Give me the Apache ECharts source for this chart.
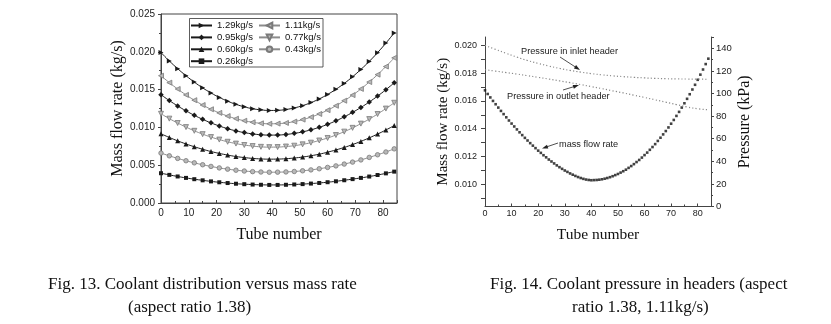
<!DOCTYPE html>
<html><head><meta charset="utf-8">
<script src="https://cdn.jsdelivr.net/npm/echarts@6/dist/echarts.min.js"></script>
<style>html,body{margin:0;padding:0;background:#fff}#c{width:831px;height:324px}</style>
</head><body><div id="c"></div>
<script>
// ---- Fig. 13 data (tube number every 3 tubes) ----
const tubes13 = [0,3,6,9,12,15,18,21,24,27,30,33,36,39,42,45,48,51,54,57,60,63,66,69,72,75,78,81,84];
const flow129 = [0.01990,0.01879,0.01777,0.01684,0.01599,0.01523,0.01456,0.01397,0.01347,0.01305,0.01272,0.01247,0.01232,0.01224,0.01226,0.01237,0.01258,0.01288,0.01328,0.01377,0.01436,0.01504,0.01582,0.01670,0.01767,0.01873,0.01989,0.02115,0.02250];
const flow111 = [0.01684,0.01592,0.01508,0.01430,0.01360,0.01296,0.01240,0.01192,0.01150,0.01115,0.01088,0.01068,0.01054,0.01048,0.01050,0.01059,0.01077,0.01103,0.01136,0.01178,0.01228,0.01286,0.01353,0.01427,0.01509,0.01600,0.01698,0.01805,0.01920];
const flow095 = [0.01432,0.01355,0.01284,0.01219,0.01160,0.01107,0.01060,0.01019,0.00983,0.00954,0.00931,0.00914,0.00903,0.00898,0.00899,0.00907,0.00921,0.00941,0.00968,0.01001,0.01041,0.01087,0.01140,0.01199,0.01264,0.01336,0.01414,0.01499,0.01590];
const flow077 = [0.01180,0.01116,0.01058,0.01004,0.00955,0.00911,0.00872,0.00839,0.00810,0.00786,0.00767,0.00753,0.00743,0.00739,0.00740,0.00747,0.00758,0.00776,0.00798,0.00827,0.00860,0.00899,0.00944,0.00994,0.01050,0.01110,0.01177,0.01249,0.01326];
const flow060 = [0.00915,0.00867,0.00822,0.00781,0.00744,0.00711,0.00681,0.00656,0.00634,0.00615,0.00601,0.00590,0.00583,0.00580,0.00581,0.00586,0.00595,0.00608,0.00625,0.00646,0.00672,0.00702,0.00735,0.00773,0.00815,0.00862,0.00912,0.00966,0.01025];
const flow043 = [0.00660,0.00624,0.00590,0.00559,0.00531,0.00506,0.00484,0.00464,0.00448,0.00434,0.00423,0.00415,0.00410,0.00407,0.00408,0.00411,0.00417,0.00426,0.00438,0.00453,0.00471,0.00491,0.00515,0.00541,0.00570,0.00603,0.00638,0.00675,0.00716];
const flow026 = [0.00394,0.00372,0.00351,0.00332,0.00315,0.00300,0.00286,0.00274,0.00264,0.00255,0.00249,0.00244,0.00241,0.00239,0.00239,0.00241,0.00245,0.00250,0.00257,0.00265,0.00275,0.00287,0.00301,0.00316,0.00332,0.00350,0.00370,0.00392,0.00415];
const seriesNames13 = ['1.29kg/s','1.11kg/s','0.95kg/s','0.77kg/s','0.60kg/s','0.43kg/s','0.26kg/s'];

// ---- Fig. 14 data ----
const tubes14 = [0,1,2,3,4,5,6,7,8,9,10,11,12,13,14,15,16,17,18,19,20,21,22,23,24,25,26,27,28,29,30,31,32,33,34,35,36,37,38,39,40,41,42,43,44,45,46,47,48,49,50,51,52,53,54,55,56,57,58,59,60,61,62,63,64,65,66,67,68,69,70,71,72,73,74,75,76,77,78,79,80,81,82,83,84];
const massFlow = [0.01676,0.01650,0.01625,0.01600,0.01576,0.01552,0.01528,0.01505,0.01482,0.01459,0.01437,0.01416,0.01395,0.01374,0.01354,0.01334,0.01315,0.01296,0.01278,0.01260,0.01242,0.01226,0.01209,0.01194,0.01178,0.01164,0.01150,0.01136,0.01123,0.01111,0.01099,0.01089,0.01078,0.01069,0.01060,0.01052,0.01045,0.01039,0.01034,0.01031,0.01029,0.01030,0.01031,0.01033,0.01036,0.01040,0.01045,0.01051,0.01058,0.01066,0.01074,0.01084,0.01094,0.01105,0.01118,0.01131,0.01145,0.01160,0.01175,0.01192,0.01210,0.01228,0.01248,0.01268,0.01289,0.01312,0.01335,0.01359,0.01383,0.01409,0.01436,0.01463,0.01492,0.01521,0.01552,0.01583,0.01615,0.01648,0.01682,0.01716,0.01752,0.01789,0.01826,0.01865,0.01904];
const tubesP = [0,4,8,12,16,20,24,28,32,36,40,44,48,52,56,60,64,68,72,76,80,84];
const pInlet = [142.6,139.0,135.5,132.2,129.2,126.6,124.3,122.2,120.4,118.9,117.6,116.5,115.6,114.9,114.3,113.8,113.4,113.1,112.9,112.8,112.7,112.6];
const pOutlet = [121.0,119.8,118.5,117.2,115.8,114.3,112.8,111.2,109.6,107.9,106.1,104.3,102.4,100.5,98.5,96.5,94.4,92.3,90.2,88.1,86.5,85.6];
const leftTicks14 = [0.010,0.012,0.014,0.016,0.018,0.020];
const leftMinor14 = [0.009,0.010,0.011,0.012,0.013,0.014,0.015,0.016,0.017,0.018,0.019,0.020];

const pair = (xs, ys) => xs.map((x, i) => [x, ys[i]]);
const BLACK = '#1a1a1a', GRAY = '#8c8c8c', GRAYF = '#b8b8b8';
const tickFont = {fontFamily: 'Liberation Sans, Arial, sans-serif', color: '#222'};
const serif = 'Liberation Serif, Times New Roman, serif';

function mk(name, data, dark, symbol, rot, size) {
  return {
    name, type: 'line', xAxisIndex: 0, yAxisIndex: 0, smooth: true,
    data: pair(tubes13, data), symbol, symbolRotate: rot, symbolSize: size,
    lineStyle: {color: dark ? BLACK : GRAY, width: 1},
    itemStyle: dark ? {color: BLACK} : {color: GRAYF, borderColor: '#7a7a7a', borderWidth: 0.8},
    emphasis: {disabled: true}, z: 3
  };
}
const legendCommon = {orient: 'vertical', top: 20.5, padding: 0, itemWidth: 21, itemHeight: 7, itemGap: 1.9,
  selectedMode: false, textStyle: {fontFamily: 'Liberation Sans, Arial, sans-serif', fontSize: 9.5, color: '#111'}};

const chart = echarts.init(document.getElementById('c'), null, {renderer: 'canvas'});
chart.setOption({
  animation: false,
  backgroundColor: '#fff',
  grid: [
    {left: 161, top: 14, width: 236, height: 189, show: true, borderColor: '#444', borderWidth: 1},
    {left: 485, top: 37, width: 226, height: 169.5}
  ],
  xAxis: [
    {gridIndex: 0, type: 'value', min: 0, max: 85, interval: 10,
     axisLine: {lineStyle: {color: '#444'}}, axisTick: {inside: true, length: 3, lineStyle: {color: '#444'}},
     minorTick: {show: true, splitNumber: 2, length: 2, lineStyle: {color: '#444'}},
     axisLabel: {...tickFont, fontSize: 10, margin: 5, showMaxLabel: false}, splitLine: {show: false},
     name: 'Tube number', nameLocation: 'middle', nameGap: 24,
     nameTextStyle: {fontFamily: serif, fontSize: 16, color: '#111'}},
    {gridIndex: 1, type: 'value', min: 0, max: 85, interval: 10,
     axisLine: {lineStyle: {color: '#444'}}, axisTick: {inside: true, length: 3, lineStyle: {color: '#444'}},
     minorTick: {show: true, splitNumber: 2, length: 2, lineStyle: {color: '#444'}},
     axisLabel: {...tickFont, fontSize: 9, margin: 3, showMaxLabel: false}, splitLine: {show: false},
     name: 'Tube number', nameLocation: 'middle', nameGap: 20,
     nameTextStyle: {fontFamily: serif, fontSize: 15.5, color: '#111'}}
  ],
  yAxis: [
    {gridIndex: 0, type: 'value', min: 0, max: 0.025, interval: 0.005,
     axisLine: {show: true, lineStyle: {color: '#444'}}, axisTick: {show: true, length: 3, lineStyle: {color: '#444'}},
     minorTick: {show: true, splitNumber: 2, length: 2, lineStyle: {color: '#444'}},
     axisLabel: {...tickFont, fontSize: 10, margin: 6, formatter: v => v.toFixed(3)}, splitLine: {show: false},
     name: 'Mass flow rate (kg/s)', nameLocation: 'middle', nameGap: 27, nameRotate: 90,
     nameTextStyle: {fontFamily: serif, fontSize: 16, color: '#111'}},
    {gridIndex: 1, type: 'value', min: 0.0084, max: 0.0206, position: 'left',
     axisLine: {show: true, lineStyle: {color: '#444'}},
     axisTick: {show: true, length: 4, customValues: leftMinor14, lineStyle: {color: '#444'}},
     axisLabel: {...tickFont, fontSize: 9, margin: 8, customValues: leftTicks14, formatter: v => v.toFixed(3)},
     splitLine: {show: false},
     name: 'Mass flow rate (kg/s)', nameLocation: 'middle', nameGap: 30, nameRotate: 90,
     nameTextStyle: {fontFamily: serif, fontSize: 15, color: '#111'}},
    {gridIndex: 1, type: 'value', min: 0, max: 150, interval: 20, position: 'right',
     axisLine: {show: true, lineStyle: {color: '#444'}}, axisTick: {show: true, length: 3, lineStyle: {color: '#444'}},
     minorTick: {show: true, splitNumber: 2, length: 2, lineStyle: {color: '#444'}},
     axisLabel: {...tickFont, fontSize: 9.5, margin: 5, showMaxLabel: false}, splitLine: {show: false},
     name: 'Pressure (kPa)', nameLocation: 'middle', nameGap: 26, nameRotate: 90,
     nameTextStyle: {fontFamily: serif, fontSize: 16, color: '#111'}}
  ],
  legend: [
    {...legendCommon, data: ['1.29kg/s','0.95kg/s','0.60kg/s','0.26kg/s'], left: 190},
    {...legendCommon, data: ['1.11kg/s','0.77kg/s','0.43kg/s'], left: 258}
  ],
  series: [
    mk(seriesNames13[0], flow129, true, 'triangle', -90, 5),
    mk(seriesNames13[1], flow111, false, 'triangle', 90, 5),
    mk(seriesNames13[2], flow095, true, 'diamond', 0, 5.5),
    mk(seriesNames13[3], flow077, false, 'triangle', 180, 5),
    mk(seriesNames13[4], flow060, true, 'triangle', 0, 5),
    mk(seriesNames13[5], flow043, false, 'circle', 0, 4.5),
    mk(seriesNames13[6], flow026, true, 'rect', 0, 4),
    {name: 'mass flow rate', type: 'scatter', xAxisIndex: 1, yAxisIndex: 1, data: pair(tubes14, massFlow),
     symbol: 'rect', symbolSize: 2.6, itemStyle: {color: '#111'}, emphasis: {disabled: true}},
    {name: 'Pressure in inlet header', type: 'line', xAxisIndex: 1, yAxisIndex: 2, smooth: true, showSymbol: false,
     data: pair(tubesP, pInlet), lineStyle: {color: '#8a8a8a', width: 1.2, type: [1.2, 2.2]}, emphasis: {disabled: true}},
    {name: 'Pressure in outlet header', type: 'line', xAxisIndex: 1, yAxisIndex: 2, smooth: true, showSymbol: false,
     data: pair(tubesP, pOutlet), lineStyle: {color: '#8a8a8a', width: 1.2, type: [1.2, 2.2]}, emphasis: {disabled: true}}
  ],
  graphic: [
    {type: 'rect', shape: {x: 189.5, y: 18.5, width: 133.5, height: 48.5}, style: {fill: 'none', stroke: '#333', lineWidth: 0.8}, z: 10},
    {type: 'text', x: 521, y: 51, style: {text: 'Pressure in inlet header', font: '9.2px Liberation Sans, Arial, sans-serif', fill: '#222', textVerticalAlign: 'middle'}},
    {type: 'line', shape: {x1: 560, y1: 57, x2: 576, y2: 67.4}, style: {stroke: '#222', lineWidth: 0.8}},
    {type: 'polygon', shape: {points: [[580, 70], [573.9, 68.4], [576.1, 65.0]]}, style: {fill: '#222'}},
    {type: 'text', x: 507, y: 96, style: {text: 'Pressure in outlet header', font: '9.2px Liberation Sans, Arial, sans-serif', fill: '#222', textVerticalAlign: 'middle'}},
    {type: 'line', shape: {x1: 563, y1: 90, x2: 575, y2: 86.3}, style: {stroke: '#222', lineWidth: 0.8}},
    {type: 'polygon', shape: {points: [[579, 85], [573.9, 88.7], [572.7, 84.9]]}, style: {fill: '#222'}},
    {type: 'text', x: 559, y: 144, style: {text: 'mass flow rate', font: '9.2px Liberation Sans, Arial, sans-serif', fill: '#222', textVerticalAlign: 'middle'}},
    {type: 'line', shape: {x1: 558, y1: 143, x2: 546, y2: 147.1}, style: {stroke: '#222', lineWidth: 0.8}},
    {type: 'polygon', shape: {points: [[542, 148.5], [548.3, 148.45], [547.0, 144.65]]}, style: {fill: '#222'}},
    {type: 'text', x: 48, y: 285, style: {text: 'Fig. 13. Coolant distribution versus mass rate', font: '17px Liberation Serif, Times New Roman, serif', fill: '#111', textVerticalAlign: 'middle'}},
    {type: 'text', x: 128, y: 308, style: {text: '(aspect ratio 1.38)', font: '17px Liberation Serif, Times New Roman, serif', fill: '#111', textVerticalAlign: 'middle'}},
    {type: 'text', x: 490, y: 285, style: {text: 'Fig. 14. Coolant pressure in headers (aspect', font: '17px Liberation Serif, Times New Roman, serif', fill: '#111', textVerticalAlign: 'middle'}},
    {type: 'text', x: 572, y: 308, style: {text: 'ratio 1.38, 1.11kg/s)', font: '17px Liberation Serif, Times New Roman, serif', fill: '#111', textVerticalAlign: 'middle'}}
  ]
});
</script></body></html>
